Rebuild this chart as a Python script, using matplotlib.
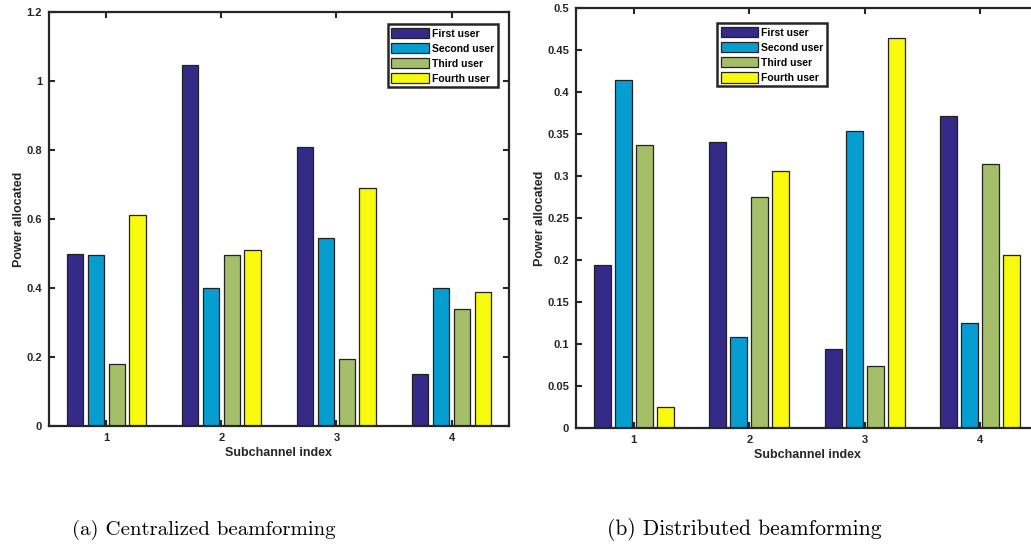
import numpy as np
import matplotlib
matplotlib.use('Agg')
import matplotlib.pyplot as plt

plt.rcParams['font.family'] = ['Liberation Sans', 'DejaVu Sans']
plt.rcParams['font.weight'] = 'bold'

subchannels = [1, 2, 3, 4]
users = ['First user', 'Second user', 'Third user', 'Fourth user']
colors = ['#352a87', '#069dd0', '#a5be69', '#f8fa0d']

# power per subchannel, one list per user
central = [
    [0.500, 1.045, 0.809, 0.152],
    [0.495, 0.399, 0.545, 0.399],
    [0.180, 0.497, 0.195, 0.338],
    [0.611, 0.509, 0.689, 0.388],
]
distrib = [
    [0.194, 0.341, 0.094, 0.371],
    [0.414, 0.108, 0.354, 0.125],
    [0.337, 0.275, 0.074, 0.314],
    [0.025, 0.306, 0.464, 0.206],
]

central_yticks = [0, 0.2, 0.4, 0.6, 0.8, 1, 1.2]
central_ylabels = ['0', '0.2', '0.4', '0.6', '0.8', '1', '1.2']
distrib_yticks = [0, 0.05, 0.1, 0.15, 0.2, 0.25, 0.3, 0.35, 0.4, 0.45, 0.5]
distrib_ylabels = ['0', '0.05', '0.1', '0.15', '0.2', '0.25', '0.3', '0.35', '0.4', '0.45', '0.5']

fig = plt.figure(figsize=(10.31, 5.48), dpi=100)
ax1 = fig.add_axes([0.0475, 0.2226, 0.4462, 0.7555])
ax2 = fig.add_axes([0.5587, 0.219, 0.4481, 0.7664])

# matlab style grouped bars
gw = 4 / 5.5
bw = gw / 4 * 0.8
x = np.array(subchannels)


def draw(ax, data, yticks, ylabels, legend_anchor, legend_loc):
    for i, vals in enumerate(data):
        off = (2 * i + 1 - 4) * gw / 8
        ax.bar(x + off, vals, bw, color=colors[i], edgecolor='#222222',
               linewidth=0.9, label=users[i], zorder=2)
    ax.set_xlim(0.5, 4.5)
    ax.set_ylim(yticks[0], yticks[-1])
    ax.set_xticks(subchannels)
    ax.set_xticklabels([str(s) for s in subchannels])
    ax.set_yticks(yticks)
    ax.set_yticklabels(ylabels)
    ax.tick_params(direction='in', length=4, width=1.5, top=True, right=True,
                   labelsize=8, colors='#262626', pad=5)
    for s in ax.spines.values():
        s.set_linewidth(1.6)
        s.set_color('#262626')
        s.set_zorder(3)
    ax.set_xlabel('Subchannel index', fontsize=9, fontweight='bold',
                  color='#262626', labelpad=3)
    ax.set_ylabel('Power allocated', fontsize=9, fontweight='bold',
                  color='#262626', labelpad=1)
    leg = ax.legend(loc=legend_loc, bbox_to_anchor=legend_anchor, fontsize=7.5,
                    fancybox=False, framealpha=1, edgecolor='#262626',
                    handlelength=3.6, handleheight=1.2, handletextpad=0.3,
                    labelspacing=0.4, borderpad=0.35, borderaxespad=0)
    leg.get_frame().set_linewidth(1.8)


draw(ax1, central, central_yticks, central_ylabels, (0.976, 0.971), 'upper right')
draw(ax2, distrib, distrib_yticks, distrib_ylabels, (0.305, 0.964), 'upper left')

fig.text(0.198, 0.033, '(a) Centralized beamforming', family='cmr10',
         fontsize=15, ha='center', va='center', fontweight='normal')
fig.text(0.722, 0.033, '(b) Distributed beamforming', family='cmr10',
         fontsize=15.5, ha='center', va='center', fontweight='normal')

fig.savefig('out.png', dpi=100)
